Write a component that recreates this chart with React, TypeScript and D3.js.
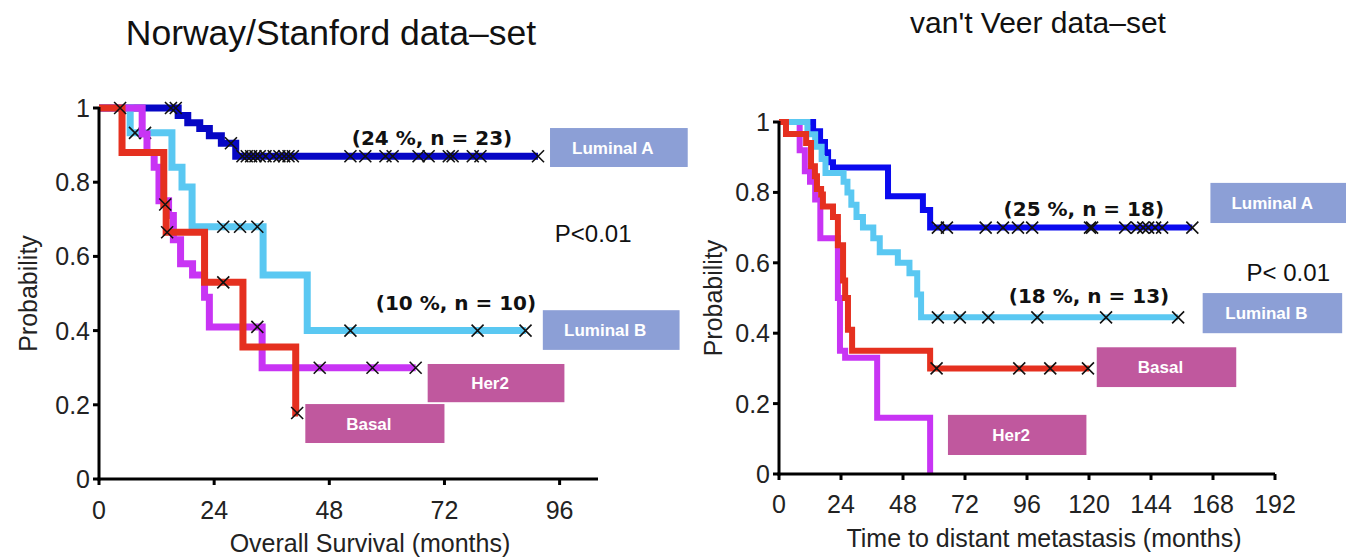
import React from 'react';
import * as d3 from 'd3';

// shared y ticks
const yTicks = [0, 0.2, 0.4, 0.6, 0.8, 1];
const yTickLabels = ['0', '0.2', '0.4', '0.6', '0.8', '1'];

// ---- Norway/Stanford data-set (overall survival, months) ----
const nsXTicks = [0, 24, 48, 72, 96];

const nsLumATimes = [0, 16.5, 18.5, 21, 23, 25.5, 28.5];
const nsLumASurv = [1, 0.98, 0.96, 0.945, 0.925, 0.905, 0.87];
const nsLumAEnd = 91.5;
const nsLumACensor = [15, 16, 27.5, 29.9, 30.8, 31.7, 32.6, 33.5, 34.7, 36.4, 37.6, 38.6, 39.5, 40.4,
  52.4, 55.5, 59.7, 61.2, 66.6, 68.7, 72.9, 73.7, 77.9, 79.5, 91.5];

const nsLumBTimes = [0, 6.5, 15.2, 17.3, 19.4, 34.2, 43.4];
const nsLumBSurv = [1, 0.933, 0.84, 0.787, 0.68, 0.55, 0.4];
const nsLumBEnd = 89;
const nsLumBCensor = [7.5, 9.6, 25.9, 29.4, 33, 52.4, 78.9, 88.9];

const nsHer2Times = [0, 9, 10, 11.5, 12.5, 14.5, 15.5, 17, 19.5, 22, 23, 34];
const nsHer2Surv = [1, 0.93, 0.88, 0.84, 0.75, 0.71, 0.645, 0.58, 0.55, 0.49, 0.41, 0.3];
const nsHer2End = 66;
const nsHer2Censor = [33, 46, 57, 66];

const nsBasalTimes = [0, 4.8, 13.5, 14, 22, 30, 41];
const nsBasalSurv = [1, 0.88, 0.74, 0.665, 0.53, 0.356, 0.178];
const nsBasalEnd = 41.5;
const nsBasalCensor = [4.4, 13.8, 14.2, 25.9, 41.3];

// ---- van't Veer data-set (time to distant metastasis, months) ----
const vvXTicks = [0, 24, 48, 72, 96, 120, 144, 168, 192];

const vvLumATimes = [0, 13.2, 15.9, 17.8, 19, 20.9, 42.2, 55.7, 58.5];
const vvLumASurv = [1, 0.974, 0.943, 0.914, 0.886, 0.871, 0.789, 0.75, 0.7];
const vvLumAEnd = 160;
const vvLumACensor = [61.5, 65, 80, 86.7, 92.5, 98, 120.4, 121.2, 134, 138.6, 141, 142.9, 145.6, 148.3, 160];

const vvLumBTimes = [0, 11, 14, 16.5, 18, 25, 26.5, 28, 30, 32.5, 36.5, 39, 46, 50.5, 53.5, 55];
const vvLumBSurv = [1, 0.965, 0.93, 0.895, 0.855, 0.83, 0.8, 0.765, 0.73, 0.7, 0.67, 0.63, 0.6, 0.57, 0.51, 0.445];
const vvLumBEnd = 154.5;
const vvLumBCensor = [61.5, 70, 81, 100, 126.6, 154.5];

const vvBasalTimes = [0, 2.7, 10.5, 12.4, 13.9, 14.7, 16.3, 17, 20.9, 22.8, 24.8, 25.6, 26.7, 28.3, 58.5];
const vvBasalSurv = [1, 0.966, 0.94, 0.874, 0.846, 0.81, 0.794, 0.76, 0.73, 0.65, 0.55, 0.5, 0.41, 0.35, 0.3];
const vvBasalEnd = 120;
const vvBasalCensor = [61, 93, 105, 119.6];

const vvHer2Times = [0, 8, 10, 12, 14, 16, 22.8, 23.6, 25.6, 38, 58.5];
const vvHer2Surv = [1, 0.92, 0.86, 0.83, 0.78, 0.67, 0.5, 0.35, 0.33, 0.16, 0];
const vvHer2End = 58.5;
const vvHer2Censor: number[] = [];

const FONT = "'Liberation Sans', Arial, Helvetica, sans-serif";
const BOLD = "'DejaVu Sans', Verdana, sans-serif";
const BOX_BLUE = '#8c9fd6';
const BOX_PINK = '#c0589e';

type Series = { name: string; color: string; times: number[]; surv: number[]; end: number; censor: number[] };

function stepAt(times: number[], surv: number[], t: number) {
  let v = surv[0];
  for (let i = 0; i < times.length; i++) if (times[i] <= t) v = surv[i];
  return v;
}

const Panel = ({ title, titleX, titleY, titleSize, xLabel, xLabelX, xLabelY, ticks, xMax, xRange, yRange, series, boxes, notes, stroke, yLabelX, tickY }: any) => {
  const x = d3.scaleLinear().domain([0, xMax]).range(xRange);
  const y = d3.scaleLinear().domain([0, 1]).range(yRange);
  const line = d3.line<[number, number]>().x(d => x(d[0])).y(d => y(d[1])).curve(d3.curveStepAfter);
  const x0 = x(0), yb = y(0);
  return (
    <g>
      <text x={titleX} y={titleY} textAnchor="middle" fontFamily={FONT} fontSize={titleSize} fill="#111">{title}</text>
      {series.map((s: Series) => {
        const pts: [number, number][] = s.times.map((t, i) => [t, s.surv[i]] as [number, number]);
        pts.push([s.end, s.surv[s.surv.length - 1]]);
        return (
          <g key={s.name}>
            <path d={line(pts) || ''} fill="none" stroke={s.color} strokeWidth={stroke} strokeLinejoin="miter" />
            {s.censor.map((c, i) => (
              <path key={i} transform={`translate(${x(c)},${y(stepAt(s.times, s.surv, c))})`}
                d="M-6,-6L6,6M-6,6L6,-6" stroke="#111" strokeWidth={1.6} />
            ))}
          </g>
        );
      })}
      {/* axes */}
      <line x1={x0} x2={x0} y1={y(1) - 1} y2={yb + 1.5} stroke="#000" strokeWidth={3} />
      <line x1={x0 - 1.5} x2={xRange[1]} y1={yb} y2={yb} stroke="#000" strokeWidth={3} />
      {yTicks.map((t, i) => (
        <g key={t}>
          <line x1={x0 - 6} x2={x0} y1={y(t)} y2={y(t)} stroke="#000" strokeWidth={3} />
          <text x={x0 - 9} y={y(t) + 9} textAnchor="end" fontFamily={FONT} fontSize={25} fill="#222">{yTickLabels[i]}</text>
        </g>
      ))}
      {ticks.map((t: number) => (
        <g key={t}>
          <line x1={x(t)} x2={x(t)} y1={yb} y2={yb + 6} stroke="#000" strokeWidth={3} />
          <text x={x(t)} y={tickY} textAnchor="middle" fontFamily={FONT} fontSize={25} fill="#222">{t}</text>
        </g>
      ))}
      <text x={xLabelX} y={xLabelY} textAnchor="middle" fontFamily={FONT} fontSize={25} fill="#222">{xLabel}</text>
      <text transform={`translate(${yLabelX},${(y(1) + yb) / 2}) rotate(-90)`} textAnchor="middle" fontFamily={FONT} fontSize={25} fill="#222">Probability</text>
      {boxes.map((b: any) => (
        <g key={b.label}>
          <rect x={x(b.x0)} y={y(b.y1)} width={x(b.x1) - x(b.x0)} height={y(b.y0) - y(b.y1)} fill={b.fill} />
          <text x={(x(b.x0) + x(b.x1)) / 2 - 6} y={(y(b.y0) + y(b.y1)) / 2 + 6} textAnchor="middle" fontFamily={FONT}
            fontWeight="bold" fontSize={17} fill="#fff">{b.label}</text>
        </g>
      ))}
      {notes.map((n: any) => (
        <text key={n.text} x={x(n.x)} y={y(n.y)} textAnchor={n.anchor} fontFamily={n.bold ? BOLD : FONT}
          fontWeight={n.bold ? 'bold' : 'normal'} fontSize={n.bold ? 20 : 24} fill="#111">{n.text}</text>
      ))}
    </g>
  );
};

export default function App() {
  const nsSeries: Series[] = [
    { name: 'Luminal A', color: '#0606c4', times: nsLumATimes, surv: nsLumASurv, end: nsLumAEnd, censor: nsLumACensor },
    { name: 'Luminal B', color: '#5ac8f2', times: nsLumBTimes, surv: nsLumBSurv, end: nsLumBEnd, censor: nsLumBCensor },
    { name: 'Her2', color: '#c834f4', times: nsHer2Times, surv: nsHer2Surv, end: nsHer2End, censor: nsHer2Censor },
    { name: 'Basal', color: '#e5301f', times: nsBasalTimes, surv: nsBasalSurv, end: nsBasalEnd, censor: nsBasalCensor },
  ];
  const vvSeries: Series[] = [
    { name: 'Her2', color: '#c834f4', times: vvHer2Times, surv: vvHer2Surv, end: vvHer2End, censor: vvHer2Censor },
    { name: 'Luminal A', color: '#0a0aee', times: vvLumATimes, surv: vvLumASurv, end: vvLumAEnd, censor: vvLumACensor },
    { name: 'Luminal B', color: '#5ac8f2', times: vvLumBTimes, surv: vvLumBSurv, end: vvLumBEnd, censor: vvLumBCensor },
    { name: 'Basal', color: '#e5301f', times: vvBasalTimes, surv: vvBasalSurv, end: vvBasalEnd, censor: vvBasalCensor },
  ];
  const nsBoxes = [
    { label: 'Luminal A', x0: 94, x1: 122.7, y0: 0.841, y1: 0.946, fill: BOX_BLUE },
    { label: 'Luminal B', x0: 92.5, x1: 121, y0: 0.348, y1: 0.455, fill: BOX_BLUE },
    { label: 'Her2', x0: 68.5, x1: 97, y0: 0.207, y1: 0.31, fill: BOX_PINK },
    { label: 'Basal', x0: 43, x1: 72, y0: 0.097, y1: 0.202, fill: BOX_PINK },
  ];
  const vvBoxes = [
    { label: 'Luminal A', x0: 167, x1: 219.5, y0: 0.713, y1: 0.827, fill: BOX_BLUE },
    { label: 'Luminal B', x0: 164, x1: 218, y0: 0.4, y1: 0.514, fill: BOX_BLUE },
    { label: 'Basal', x0: 123, x1: 177, y0: 0.247, y1: 0.36, fill: BOX_PINK },
    { label: 'Her2', x0: 65.4, x1: 119, y0: 0.054, y1: 0.168, fill: BOX_PINK },
  ];
  const nsNotes = [
    { text: '(24 %, n = 23)', x: 69.4, y: 0.9, anchor: 'middle', bold: true },
    { text: '(10 %, n = 10)', x: 74.4, y: 0.455, anchor: 'middle', bold: true },
    { text: 'P<0.01', x: 95, y: 0.64, anchor: 'start', bold: false },
  ];
  const vvNotes = [
    { text: '(25 %, n = 18)', x: 118, y: 0.733, anchor: 'middle', bold: true },
    { text: '(18 %, n = 13)', x: 120, y: 0.486, anchor: 'middle', bold: true },
    { text: 'P< 0.01', x: 181, y: 0.548, anchor: 'start', bold: false },
  ];
  return (
    <svg width={1346} height={557} style={{ position: 'absolute', left: 0, top: 0, background: '#fff' }}>
      <rect width={1346} height={557} fill="#fff" />
      <Panel title="Norway/Stanford data–set" titleX={331} titleY={45} titleSize={35.5}
        xLabel="Overall Survival (months)" xLabelX={370} xLabelY={552}
        ticks={nsXTicks} xMax={104} xRange={[99, 598]} yRange={[479, 108]}
        series={nsSeries} boxes={nsBoxes} notes={nsNotes} stroke={7} yLabelX={37} tickY={519} />
      <Panel title="van't Veer data–set" titleX={1038} titleY={33} titleSize={30}
        xLabel="Time to distant metastasis (months)" xLabelX={1044} xLabelY={547}
        ticks={vvXTicks} xMax={192} xRange={[779, 1275]} yRange={[474, 122]}
        series={vvSeries} boxes={vvBoxes} notes={vvNotes} stroke={6} yLabelX={722} tickY={513} />
    </svg>
  );
}
